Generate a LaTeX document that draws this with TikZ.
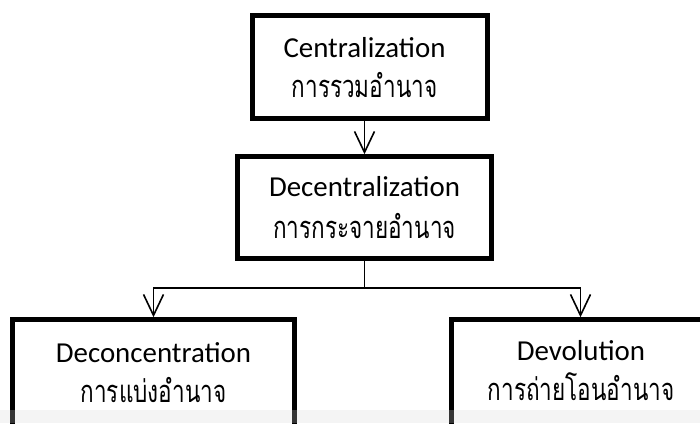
\documentclass[tikz,border=0pt]{standalone}
\usepackage{fontspec}
\setmainfont{Carlito}
\newfontfamily\thaifont[Script=Thai, FakeStretch=0.73]{Loma}
\usetikzlibrary{arrows.meta}
\begin{document}
\begin{tikzpicture}[x=1bp,y=-1bp,
  box/.style={draw, line width=4.5bp, inner sep=0pt, fill=white},
  en/.style={font=\fontsize{29}{34}\selectfont, inner sep=0pt, anchor=base},
  th/.style={font=\thaifont\fontsize{31}{36}\selectfont, inner sep=0pt, anchor=base},
  link/.style={line width=1.6bp},
  arr/.style={link, -{Straight Barb[length=21bp,width=20bp]}}]
\useasboundingbox (0,0) rectangle (700,423);
\clip (0,0) rectangle (700,423);

% boxes
\node[box, minimum width=235bp, minimum height=103bp] (top) at (370,67) {};
\node[box, minimum width=254bp, minimum height=102bp] (mid) at (364.5,207.5) {};
\node[box, minimum width=282bp, minimum height=160bp] (left) at (153.5,399.5) {};
\node[box, minimum width=258bp, minimum height=160bp] (right) at (580.5,399.5) {};

% labels
\node[en] (topen) at (364.5,57) {Centralization};
\node[th] (topth) at (364.5,97) {การรวมอำนาจ};
\node[en] (miden) at (364.5,196) {Decentralization};
\node[th] (midth) at (364.5,238) {การกระจายอำนาจ};
\node[en] (leften) at (153.5,362) {Deconcentration};
\node[th] (leftth) at (153.5,402) {การแบ่งอำนาจ};
\node[en] (righten) at (581,360) {Devolution};
\node[th] (rightth) at (581,400) {การถ่ายโอนอำนาจ};

% connectors
\draw[arr] (mid.north |- top.south) -- (mid.north);
\coordinate (split) at (mid.south |- 0,288);
\draw[link] (mid.south) -- (split);
\draw[arr] (split) -| (left.north);
\draw[arr] (split) -| (right.north);

% faint band along the lower edge
\fill[black!17, opacity=0.25] (0,410) rectangle (700,423);
\end{tikzpicture}
\end{document}
